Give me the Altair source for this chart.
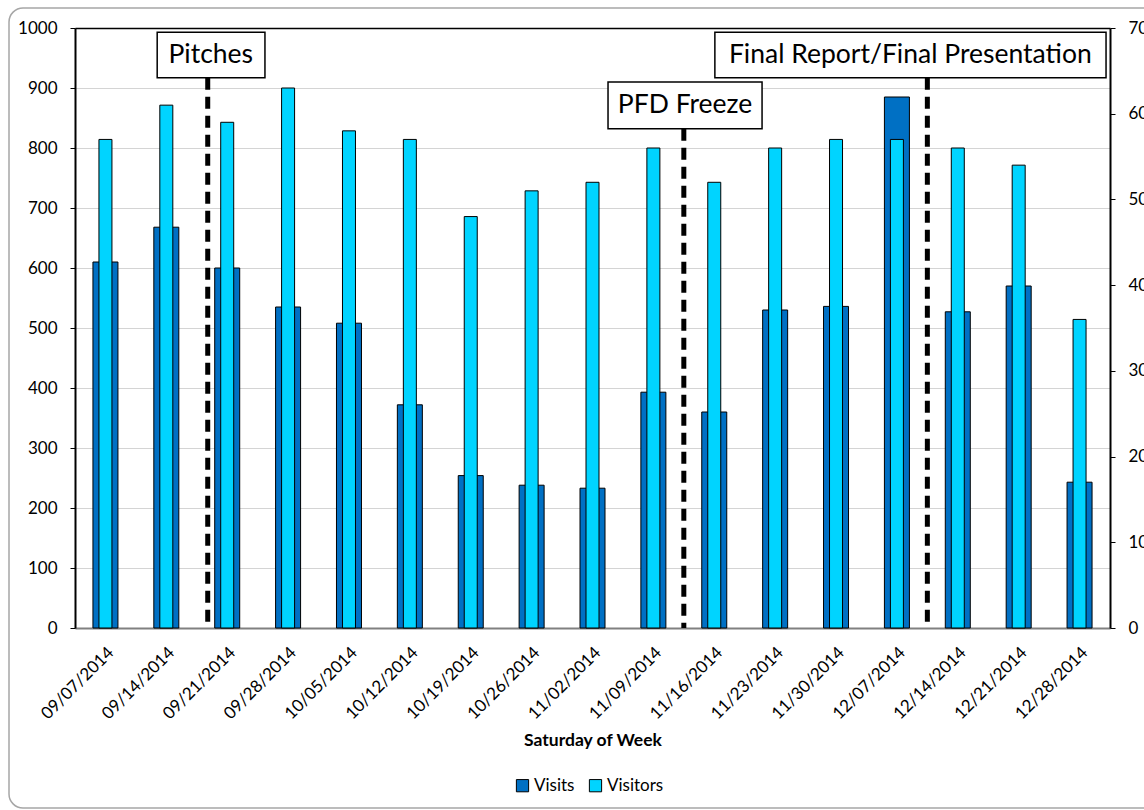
import altair as alt
import pandas as pd

# ---- data ----
dates = ["09/07/2014", "09/14/2014", "09/21/2014", "09/28/2014", "10/05/2014",
         "10/12/2014", "10/19/2014", "10/26/2014", "11/02/2014", "11/09/2014",
         "11/16/2014", "11/23/2014", "11/30/2014", "12/07/2014", "12/14/2014",
         "12/21/2014", "12/28/2014"]
visits = [610, 668, 600, 535, 508, 372, 254, 238, 233, 393, 360, 530, 536, 885, 527, 570, 243]
visitors = [57, 61, 59, 63, 58, 57, 48, 51, 52, 56, 52, 56, 57, 57, 56, 54, 36]

# annotation markers (x in category units, y in Visits units)
ann_labels = ["Pitches", "PFD Freeze", "Final Report/Final Presentation"]
ann_pos = [2.18, 10.0, 14.0]
ann_box_left = [1.35, 8.755, 10.51]
ann_box_right = [3.12, 11.285, 16.935]
ann_box_top = [993, 910, 993]
ann_box_bottom = [917, 832, 917]
ann_text_x = [2.23, 10.02, 13.72]
ann_text_y = [955, 871, 955]

DARK = "#0070C4"
CYAN = "#00D4FF"
FONT = "Lato"

df = pd.DataFrame({"date": dates, "Visits": visits, "Visitors": visitors})
ann = pd.DataFrame({
    "label": ann_labels, "pos": ann_pos, "xl": ann_box_left, "xr": ann_box_right,
    "yt": ann_box_top, "yb": ann_box_bottom, "tx": ann_text_x, "ty": ann_text_y,
    "zero": [0] * len(ann_labels),
})

color = alt.Color(
    "series:N",
    scale=alt.Scale(domain=["Visits", "Visitors"], range=[DARK, CYAN]),
    legend=alt.Legend(
        title=None, orient="none", direction="horizontal",
        legendX=439, legendY=749,
        symbolType="square", symbolSize=150, symbolStrokeColor="black",
        symbolStrokeWidth=1, labelFont=FONT, labelFontSize=17, labelColor="black",
        columnPadding=12, labelOffset=3,
    ),
)

base = alt.Chart(df)

visits_bar = base.transform_fold(["Visits"], as_=["series", "value"]).mark_bar(
    size=25, stroke="black", strokeWidth=1
).encode(
    x=alt.X("date:N", sort=dates, scale=alt.Scale(paddingInner=0, paddingOuter=0),
            axis=alt.Axis(title="Saturday of Week", labelAngle=-45, labelFont=FONT,
                          labelFontSize=17, labelColor="black", ticks=False,
                          domainColor="#808080", domainWidth=2, labelPadding=16,
                          titleFont=FONT, titleFontSize=17.5, titleFontWeight="bold",
                          titleColor="black", titlePadding=10)),
    y=alt.Y("value:Q", scale=alt.Scale(domain=[0, 1000], nice=False),
            axis=alt.Axis(title=None, values=list(range(0, 1001, 100)), orient="left",
                          format="d",
                          labelFont=FONT, labelFontSize=17, labelColor="black",
                          domainColor="black", domainWidth=2, tickColor="black",
                          tickSize=5, labelPadding=13, grid=True,
                          gridColor="#d4d4d4", gridWidth=1)),
    color=color,
)

visitors_bar = base.transform_fold(["Visitors"], as_=["series", "value"]).mark_bar(
    size=13, stroke="black", strokeWidth=1
).encode(
    x=alt.X("date:N", sort=dates, scale=alt.Scale(paddingInner=0, paddingOuter=0),
            axis=alt.Axis(orient="top", labels=False, ticks=False, title=None,
                          domainColor="black", domainWidth=1.5, grid=False)),
    y=alt.Y("value:Q", scale=alt.Scale(domain=[0, 70], nice=False),
            axis=alt.Axis(title=None, values=list(range(0, 71, 10)), orient="right",
                          format="d",
                          labelFont=FONT, labelFontSize=17, labelColor="black",
                          domainColor="black", domainWidth=2, tickColor="black",
                          tickSize=5, labelPadding=13, grid=False)),
    color=color,
)

xq = alt.Scale(domain=[0, len(dates)], nice=False, zero=False)
yq = alt.Scale(domain=[0, 1000], nice=False)

ann_base = alt.Chart(ann)

lines = ann_base.mark_rule(color="black", strokeWidth=5, strokeDash=[12, 7]).encode(
    x=alt.X("pos:Q", scale=xq, axis=None),
    y=alt.Y("yb:Q", scale=yq, axis=None),
    y2="zero:Q",
)

boxes = ann_base.mark_rect(fill="white", stroke="black", strokeWidth=1.5).encode(
    x=alt.X("xl:Q", scale=xq, axis=None),
    x2="xr:Q",
    y=alt.Y("yt:Q", scale=yq, axis=None),
    y2="yb:Q",
)

texts = ann_base.mark_text(font=FONT, fontSize=26.5, color="black").encode(
    x=alt.X("tx:Q", scale=xq, axis=None),
    y=alt.Y("ty:Q", scale=yq, axis=None),
    text="label:N",
)

frame = alt.Chart(pd.DataFrame({"a": [0]})).mark_rect(
    fill="white", fillOpacity=0, stroke="#a6a6a6", strokeWidth=1.5, cornerRadius=14
).encode(
    x=alt.value(-66), x2=alt.value(1100), y=alt.value(-20), y2=alt.value(780)
)

chart = alt.layer(
    frame, visits_bar, visitors_bar, lines, boxes, texts
).resolve_scale(
    x="independent", y="independent"
).properties(
    width=1035, height=600,
    autosize=alt.AutoSizeParams(type="none"),
    padding={"left": 75, "top": 28, "right": 34, "bottom": 182},
).configure_view(stroke=None)

chart.save("out.html", embed_options={"renderer": "svg", "actions": False})
